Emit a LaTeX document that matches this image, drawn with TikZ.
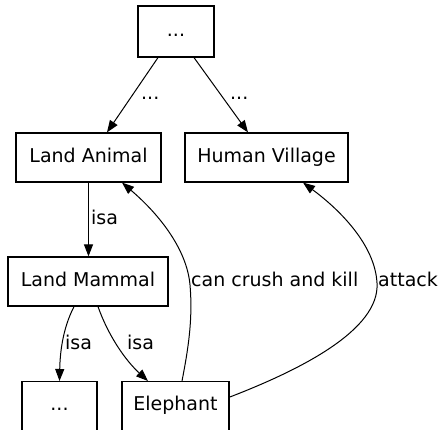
\documentclass[tikz,border=0pt]{standalone}
\usepackage{fontspec}
\setmainfont{DejaVu Sans}
\usetikzlibrary{arrows.meta,calc}
\begin{document}
\begin{tikzpicture}[x=1pt,y=-1pt,
  box/.style={draw=black,line width=1.2pt,rectangle,inner sep=0pt,
    text height=14pt,text depth=4pt,font=\fontsize{19}{22}\selectfont},
  cutbox/.style={draw=black,line width=1.2pt,rectangle,inner xsep=0pt,inner ysep=15pt,
    text height=14pt,text depth=10pt,anchor=north,font=\fontsize{19}{22}\selectfont},
  edge/.style={line width=1pt,-{Triangle[length=12pt,width=9pt]}},
  lbl/.style={inner sep=0pt,anchor=base west,font=\fontsize{19}{22}\selectfont}]
\useasboundingbox (0,0) rectangle (441,430);
\node[box,minimum width=76pt,minimum height=51pt] (top) at (176,31.5) {...};
\node[box,minimum width=145pt,minimum height=49pt] (LA) at (88.5,157.5) {Land Animal};
\node[box,minimum width=163pt,minimum height=49pt] (HV) at (266.5,157.5) {Human Village};
\node[box,minimum width=160pt,minimum height=49pt] (LM) at (88,281.5) {Land Mammal};
\node[cutbox,minimum width=75pt] (dots) at (59.5,381) {...};
\node[cutbox,minimum width=107pt] (El) at (175.5,381) {Elephant};

\draw[edge] ($(top.south)+(-18,0)$) -- ($(LA.north)+(18.5,0)$);
\draw[edge] ($(top.south)+(18,0)$) -- ($(HV.north)+(-18.5,0)$);
\draw[edge] (LA.south) -- (LA.south |- LM.north);
\draw[edge] ($(LM.south)+(-14,0)$) .. controls (62,330) and (60,355) .. (dots.north);
\draw[edge] ($(LM.south)+(10,0)$) .. controls (108,335) and (125,360) .. ($(El.north)+(-27.5,0)$);
\draw[edge] ($(El.north)+(6.5,0)$) .. controls (188,350) and (193,320) .. (190,285)
  .. controls (187,250) and (160,215) .. ($(LA.south)+(33.5,0)$);
\draw[edge] ($(El.east)+(0,-11.5)$) .. controls (300,370) and (380,330) .. (377,283)
  .. controls (375,245) and (340,210) .. ($(HV.south)+(36.5,0)$);

\node[lbl] (l1) at (141,100) {...};
\node[lbl] (l2) at (230,100) {...};
\node[lbl] (l3) at (91,225) {isa};
\node[lbl] (l4) at (65,349) {isa};
\node[lbl] (l5) at (127,349) {isa};
\node[lbl] (l6) at (191,286) {can crush and kill};
\node[lbl] (l7) at (378,286) {attack};
\end{tikzpicture}
\end{document}
